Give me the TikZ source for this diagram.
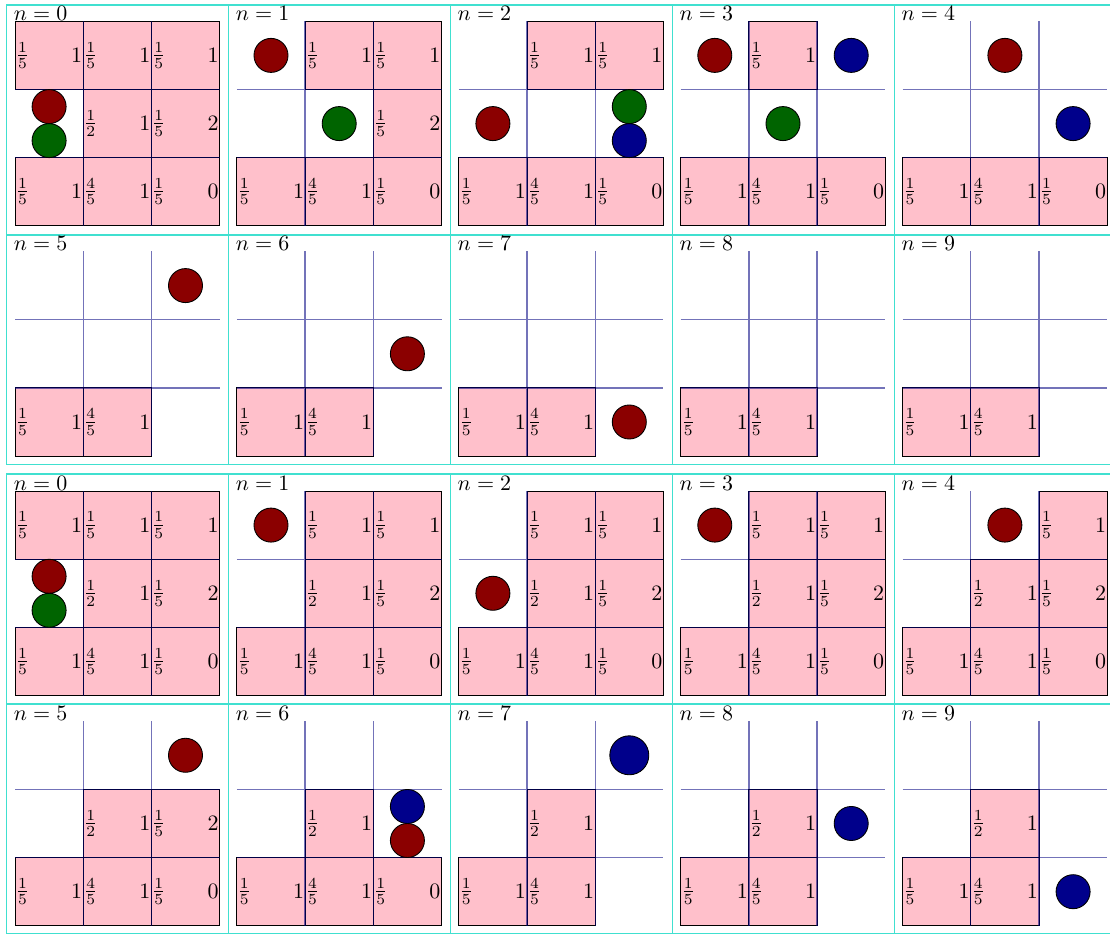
\documentclass[tikz,border=0pt]{standalone}
\usepackage{tikz}
\definecolor{ballred}{RGB}{139,0,0}
\definecolor{ballgreen}{RGB}{0,100,0}
\definecolor{ballblue}{RGB}{0,0,139}
\definecolor{cellpink}{RGB}{255,192,203}
\definecolor{framecyan}{RGB}{64,224,208}
\definecolor{gridnavy}{RGB}{0,0,128}
\newcounter{nd}
\tikzset{
  framest/.style={draw=framecyan, line width=0.7pt},
  cellst/.style={draw=black, fill=cellpink, line width=0.4pt},
  gridst/.style={draw=gridnavy, line width=0.6pt, opacity=0.55},
  ballst/.style={draw=black, line width=0.4pt},
  titlest/.style={anchor=base west, inner sep=0pt},
  fracst/.style={anchor=west, inner sep=0pt},
  numst/.style={anchor=east, inner sep=0.3pt},
}
% panel: col, grid top, frame top, n
\newcommand\Pnl[4]{%
  \pgfmathsetmacro\GX{15+221.9*#1}%
  \pgfmathsetmacro\GY{#2}%
  \draw[framest] (6.7+221.9*#1,#3) rectangle ++(221.9,229.9);
  \stepcounter{nd}\node[titlest] (T\arabic{nd}) at (\GX-1.5,\GY-0.8) {$n=#4$};
}
% cell: row, col, frac, num
\newcommand\Cell[4]{%
  \draw[cellst] (\GX+68.2*#2,\GY+68.2*#1) rectangle ++(68.2,68.2);
  \stepcounter{nd}\node[fracst] (F\arabic{nd}) at (\GX+68.2*#2,\GY+68.2*#1+34.1) {$#3$};
  \stepcounter{nd}\node[numst] (N\arabic{nd}) at (\GX+68.2*#2+68.2,\GY+68.2*#1+34.1) {$#4$};
}
\newcommand\Grid{%
  \draw[gridst] (\GX,\GY+68.2) -- ++(204.6,0) (\GX,\GY+136.4) -- ++(204.6,0)
    (\GX+68.2,\GY) -- ++(0,204.6) (\GX+136.4,\GY) -- ++(0,204.6);
}
% ball: row, col, colour, dy, radius
\newcommand\Ball[5]{%
  \draw[ballst, fill=#3] (\GX+68.2*#2+34.1,\GY+68.2*#1+34.1+#4) circle[radius=#5];
}
\newcommand\cAA{\Cell{0}{0}{\frac{1}{5}}{1}}
\newcommand\cAB{\Cell{0}{1}{\frac{1}{5}}{1}}
\newcommand\cAC{\Cell{0}{2}{\frac{1}{5}}{1}}
\newcommand\cBB{\Cell{1}{1}{\frac{1}{2}}{1}}
\newcommand\cBC{\Cell{1}{2}{\frac{1}{5}}{2}}
\newcommand\cCA{\Cell{2}{0}{\frac{1}{5}}{1}}
\newcommand\cCB{\Cell{2}{1}{\frac{4}{5}}{1}}
\newcommand\cCC{\Cell{2}{2}{\frac{1}{5}}{0}}
\def\rb{7.74pt}
\def\rbig{8.87pt}
\begin{document}
\begin{tikzpicture}[x=0.455pt,y=-0.455pt]
\useasboundingbox (0,0) rectangle (1110,934);
\clip (0,0) rectangle (1110,934);
% ---------- block 1, row 1 ----------
\Pnl{0}{21.3}{5.0}{0}
\cAA\cAB\cAC\cBB\cBC\cCA\cCB\cCC\Grid
\Ball{1}{0}{ballred}{-17}{\rb}\Ball{1}{0}{ballgreen}{17}{\rb}
\Pnl{1}{21.3}{5.0}{1}
\cAB\cAC\cBC\cCA\cCB\cCC\Grid
\Ball{0}{0}{ballred}{0}{\rb}\Ball{1}{1}{ballgreen}{0}{\rb}
\Pnl{2}{21.3}{5.0}{2}
\cAB\cAC\cCA\cCB\cCC\Grid
\Ball{1}{0}{ballred}{0}{\rb}\Ball{1}{2}{ballgreen}{-17}{\rb}\Ball{1}{2}{ballblue}{17}{\rb}
\Pnl{3}{21.3}{5.0}{3}
\cAB\cCA\cCB\cCC\Grid
\Ball{0}{0}{ballred}{0}{\rb}\Ball{0}{2}{ballblue}{0}{\rb}\Ball{1}{1}{ballgreen}{0}{\rb}
\Pnl{4}{21.3}{5.0}{4}
\cCA\cCB\cCC\Grid
\Ball{0}{1}{ballred}{0}{\rb}\Ball{1}{2}{ballblue}{0}{\rb}
% ---------- block 1, row 2 ----------
\Pnl{0}{251.5}{234.7}{5}
\cCA\cCB\Grid
\Ball{0}{2}{ballred}{0}{\rb}
\Pnl{1}{251.5}{234.7}{6}
\cCA\cCB\Grid
\Ball{1}{2}{ballred}{0}{\rb}
\Pnl{2}{251.5}{234.7}{7}
\cCA\cCB\Grid
\Ball{2}{2}{ballred}{0}{\rb}
\Pnl{3}{251.5}{234.7}{8}
\cCA\cCB\Grid
\Pnl{4}{251.5}{234.7}{9}
\cCA\cCB\Grid
% ---------- block 2, row 3 ----------
\Pnl{0}{491}{473.9}{0}
\cAA\cAB\cAC\cBB\cBC\cCA\cCB\cCC\Grid
\Ball{1}{0}{ballred}{-17}{\rb}\Ball{1}{0}{ballgreen}{17}{\rb}
\Pnl{1}{491}{473.9}{1}
\cAB\cAC\cBB\cBC\cCA\cCB\cCC\Grid
\Ball{0}{0}{ballred}{0}{\rb}
\Pnl{2}{491}{473.9}{2}
\cAB\cAC\cBB\cBC\cCA\cCB\cCC\Grid
\Ball{1}{0}{ballred}{0}{\rb}
\Pnl{3}{491}{473.9}{3}
\cAB\cAC\cBB\cBC\cCA\cCB\cCC\Grid
\Ball{0}{0}{ballred}{0}{\rb}
\Pnl{4}{491}{473.9}{4}
\cAC\cBB\cBC\cCA\cCB\cCC\Grid
\Ball{0}{1}{ballred}{0}{\rb}
% ---------- block 2, row 4 ----------
\Pnl{0}{721.2}{704.2}{5}
\cBB\cBC\cCA\cCB\cCC\Grid
\Ball{0}{2}{ballred}{0}{\rb}
\Pnl{1}{721.2}{704.2}{6}
\cBB\cCA\cCB\cCC\Grid
\Ball{1}{2}{ballblue}{-17}{\rb}\Ball{1}{2}{ballred}{17}{\rb}
\Pnl{2}{721.2}{704.2}{7}
\cBB\cCA\cCB\Grid
\Ball{0}{2}{ballblue}{0}{\rbig}
\Pnl{3}{721.2}{704.2}{8}
\cBB\cCA\cCB\Grid
\Ball{1}{2}{ballblue}{0}{\rb}
\Pnl{4}{721.2}{704.2}{9}
\cBB\cCA\cCB\Grid
\Ball{2}{2}{ballblue}{0}{\rb}
\end{tikzpicture}
\end{document}
